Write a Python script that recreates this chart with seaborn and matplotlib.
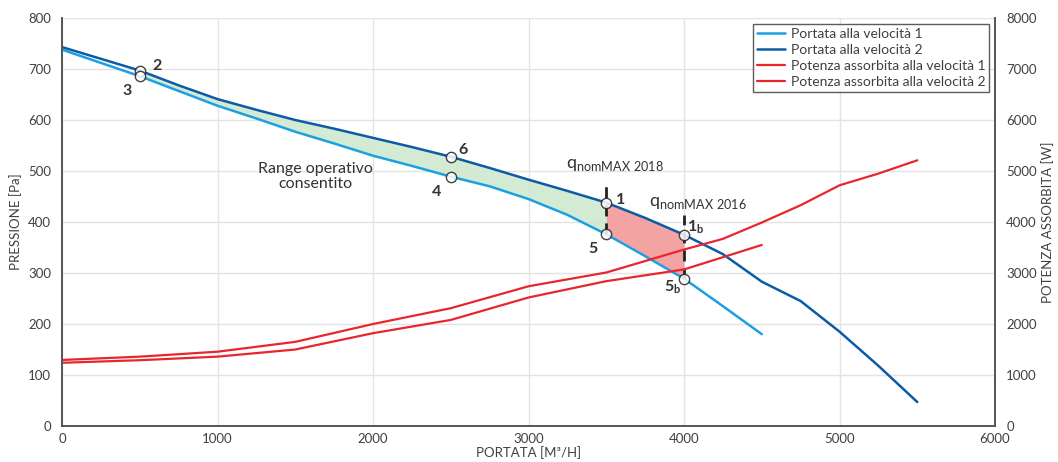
import numpy as np
import pandas as pd
import matplotlib
matplotlib.use("Agg")
import matplotlib.pyplot as plt
import seaborn as sns

# ---------------------------
# DATA
# ---------------------------
portata = [0, 250, 500, 750, 1000, 1250, 1500, 1750, 2000, 2250, 2500, 2750,
           3000, 3250, 3500, 3750, 4000, 4250, 4500, 4750, 5000, 5250, 5500]

pressione_v1 = [738, 712, 686, 657, 628, 603, 577, 554, 530, 510, 489, 470,
                445, 414, 376, 333, 289, 235, 180]
pressione_v2 = [743, 720, 697, 668, 641, 620, 600, 583, 565, 547, 528, 506,
                483, 461, 438, 408, 375, 337, 283, 245, 185, 118, 47]

portata_pot1 = [0, 500, 1000, 1500, 2000, 2500, 3000, 3500, 4000, 4500]
potenza_v1 = [1240, 1290, 1360, 1500, 1820, 2080, 2520, 2840, 3070, 3550]
portata_pot2 = [0, 500, 1000, 1500, 2000, 2500, 3000, 3500, 4000, 4250,
                4500, 4750, 5000, 5250, 5500]
potenza_v2 = [1295, 1360, 1457, 1650, 2000, 2310, 2740, 3010, 3460, 3670,
              3990, 4330, 4720, 4950, 5210]

punti_label = ["2", "3", "6", "4", "1", "5", r"1$_{\mathregular{b}}$", r"5$_{\mathregular{b}}$"]
punti_x = [500, 500, 2500, 2500, 3500, 3500, 4000, 4000]
punti_y = [697, 686, 528, 489, 438, 376, 375, 289]

# ---------------------------
# STYLE
# ---------------------------
sns.set_style("whitegrid")
plt.rcParams['font.family'] = ['Lato', 'DejaVu Sans']

c_v1 = "#1ba1e2"
c_v2 = "#0c5ba6"
c_pot = "#e8262e"
grey_txt = "#404040"

fig = plt.figure(figsize=(10.58, 4.62), dpi=100)
ax = fig.add_axes([0.0586, 0.0779, 0.8819, 0.8831])
ax2 = ax.twinx()

df1 = pd.DataFrame({"x": portata[:len(pressione_v1)], "y": pressione_v1})
df2 = pd.DataFrame({"x": portata, "y": pressione_v2})
dp1 = pd.DataFrame({"x": portata_pot1, "y": potenza_v1})
dp2 = pd.DataFrame({"x": portata_pot2, "y": potenza_v2})

# fills between the two pressure curves
xx = np.array(portata[:len(pressione_v1)])
y1 = np.array(pressione_v1)
y2 = np.array(pressione_v2[:len(pressione_v1)])
ax.fill_between(xx, y1, y2, where=(xx >= 500) & (xx <= 3500),
                color="#cfe8cf", alpha=0.9, lw=0, zorder=1)
ax.fill_between(xx, y1, y2, where=(xx >= 3500) & (xx <= 4000),
                color="#f4a3a3", alpha=1, lw=0, zorder=1)

sns.lineplot(data=df1, x="x", y="y", ax=ax, color=c_v1, lw=1.8, zorder=3,
             label="Portata alla velocità 1", legend=False)
sns.lineplot(data=df2, x="x", y="y", ax=ax, color=c_v2, lw=1.8, zorder=3,
             label="Portata alla velocità 2", legend=False)
sns.lineplot(data=dp1, x="x", y="y", ax=ax2, color=c_pot, lw=1.6,
             label="Potenza assorbita alla velocità 1", legend=False)
sns.lineplot(data=dp2, x="x", y="y", ax=ax2, color=c_pot, lw=1.6,
             label="Potenza assorbita alla velocità 2", legend=False)

# dashed q_nomMAX markers
ax.vlines([3500], 376, 478, colors="#222222", linestyles=(0, (4, 2.5)), lw=2, zorder=4)
ax.vlines([4000], 289, 414, colors="#222222", linestyles=(0, (4, 2.5)), lw=2, zorder=4)

# operating points
ax.scatter(punti_x, punti_y, s=55, facecolor="white", edgecolor="#222222",
           linewidth=1, alpha=0.85, zorder=6)

lab_pos = [(609, 706), (416, 657), (2579, 541), (2410, 459),
           (3593, 444), (3417, 348), (4075, 390), (3927, 273)]
for t, (lx, ly) in zip(punti_label, lab_pos):
    ax.text(lx, ly, t, fontsize=11.5, fontweight="bold", color="#333333",
            ha="center", va="center", zorder=7)

ax.text(3555, 512, r"q$_{\mathregular{nomMAX\ 2018}}$", fontsize=13,
        color="#333333", ha="center", va="center")
ax.text(4087, 437, r"q$_{\mathregular{nomMAX\ 2016}}$", fontsize=13,
        color="#333333", ha="center", va="center")
ax.text(1627, 489, "Range operativo\nconsentito", fontsize=11.5,
        color="#333333", ha="center", va="center", linespacing=1.1)

# ---------------------------
# AXES
# ---------------------------
ax.set_xlim(0, 6000)
ax.set_ylim(0, 800)
ax2.set_ylim(0, 8000)
ax.set_xticks(range(0, 6001, 1000))
ax.set_yticks(range(0, 801, 100))
ax2.set_yticks(range(0, 8001, 1000))
ax2.grid(False)
ax.grid(True, color="#e3e3e3", lw=1)
ax.set_axisbelow(True)

for a in (ax, ax2):
    a.tick_params(length=0, labelsize=9.5, colors=grey_txt, pad=8)
    for s in a.spines.values():
        s.set_color("#555555")
        s.set_linewidth(1.2)
ax.tick_params(axis="x", pad=5)
ax.spines["top"].set_visible(False)
ax2.spines["top"].set_visible(False)

ax.set_xlabel("PORTATA [M³/H]", fontsize=9.5, color=grey_txt, labelpad=1)
ax.set_ylabel("PRESSIONE [Pa]", fontsize=9.5, color=grey_txt, labelpad=4)
ax2.set_ylabel("POTENZA ASSORBITA [W]", fontsize=9.5, color=grey_txt, labelpad=3)

h1, l1 = ax.get_legend_handles_labels()
h2, l2 = ax2.get_legend_handles_labels()
leg = ax2.legend(h1 + h2, l1 + l2, loc="upper right", fontsize=10,
                 frameon=True, fancybox=False, borderaxespad=0.4,
                 handlelength=2.0, handletextpad=0.4, labelspacing=0.3,
                 borderpad=0.3)
leg.get_frame().set_edgecolor("#333333")
leg.get_frame().set_linewidth(1)
for t in leg.get_texts():
    t.set_color(grey_txt)

fig.savefig("out.png", dpi=100)
